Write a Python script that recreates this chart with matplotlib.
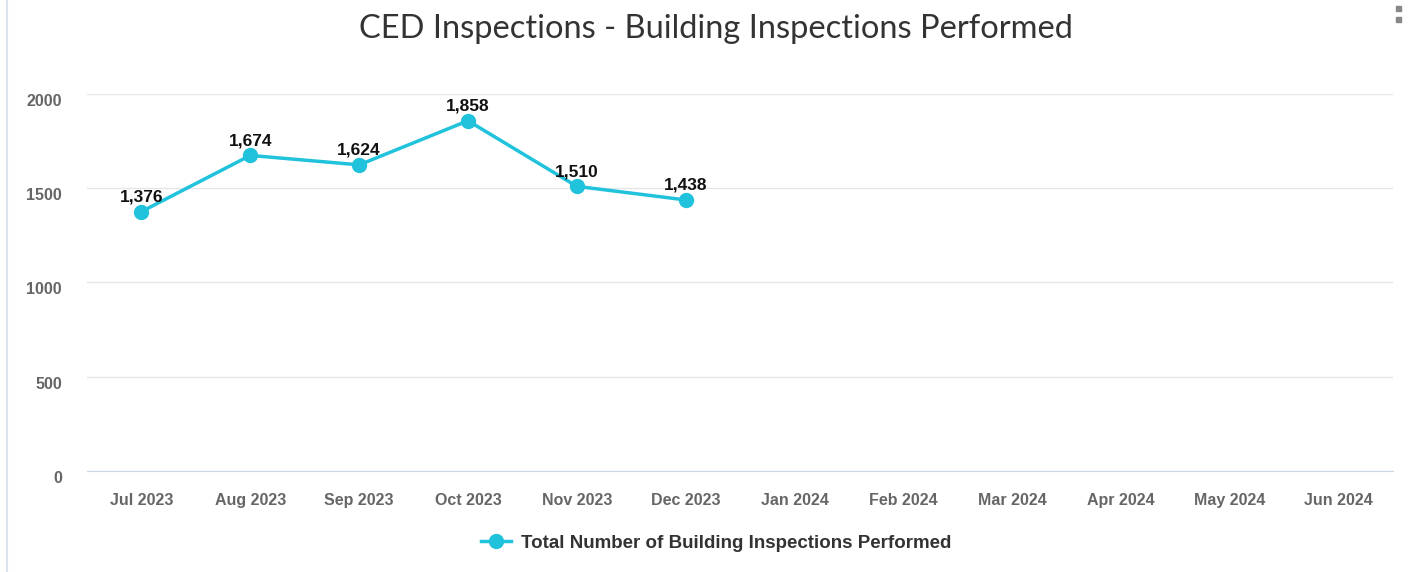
import numpy as np
import matplotlib.pyplot as plt
from matplotlib.patches import Rectangle
from matplotlib.transforms import ScaledTranslation

months = ['Jul 2023', 'Aug 2023', 'Sep 2023', 'Oct 2023', 'Nov 2023', 'Dec 2023',
          'Jan 2024', 'Feb 2024', 'Mar 2024', 'Apr 2024', 'May 2024', 'Jun 2024']
inspections = [1376, 1674, 1624, 1858, 1510, 1438]
series_name = 'Total Number of Building Inspections Performed'
yticks = [0, 500, 1000, 1500, 2000]

line_color = '#20c2dc'

fig = plt.figure(figsize=(14.18, 5.72), dpi=100)
ax = fig.add_axes([0.0614, 0.1766, 0.9210, 0.6591])

x = np.arange(len(inspections))
ax.plot(x, inspections, color=line_color, lw=2.5, marker='o', ms=10,
        label=series_name, clip_on=False, zorder=3)
for xi, v in zip(x, inspections):
    ax.annotate('{:,}'.format(v), (xi, v), xytext=(0, 5), textcoords='offset points',
                ha='center', va='bottom', fontsize=12.5, fontweight='bold',
                color='#111111', family='Liberation Sans')

ax.set_xlim(-0.5, len(months) - 0.5)
ax.set_ylim(0, 2000)
ax.set_xticks(np.arange(len(months)))
ax.set_xticklabels(months)
ax.set_yticks(yticks)
ax.set_yticklabels([str(t) for t in yticks])
for lab in ax.get_xticklabels() + ax.get_yticklabels():
    lab.set_family('Liberation Sans')
    lab.set_fontsize(11.5)
    lab.set_fontweight('bold')
    lab.set_color('#666666')
ax.tick_params(axis='x', length=0, pad=16)
ax.tick_params(axis='y', length=0, pad=18)
shift = ScaledTranslation(0, -6 / 100, fig.dpi_scale_trans)
for lab in ax.get_yticklabels():
    lab.set_transform(lab.get_transform() + shift)
ax.grid(axis='y', color='#e6e6e6', lw=1)
ax.set_axisbelow(True)
for s in ['top', 'right', 'left']:
    ax.spines[s].set_visible(False)
ax.spines['bottom'].set_color('#ccd6eb')

fig.suptitle('CED Inspections - Building Inspections Performed', x=0.505, y=0.975,
             va='top', fontsize=23.5, color='#333333', family='Lato')

leg = fig.legend(loc='center', bbox_to_anchor=(0.505, 0.05), frameon=False,
                 prop={'family': 'Liberation Sans', 'weight': 'bold', 'size': 13.5},
                 handlelength=1.6, handletextpad=0.5)
for t in leg.get_texts():
    t.set_color('#333333')

# panel border at the left and the menu dots
fig.add_artist(plt.Line2D([0.005, 0.005], [0, 1], color='#dde3ee', lw=1.5))
fig.add_artist(Rectangle((0.9845, 0.980), 0.0035, 0.009, color='#888888'))
fig.add_artist(Rectangle((0.9845, 0.961), 0.0035, 0.009, color='#888888'))

fig.savefig('out.png', dpi=100)
